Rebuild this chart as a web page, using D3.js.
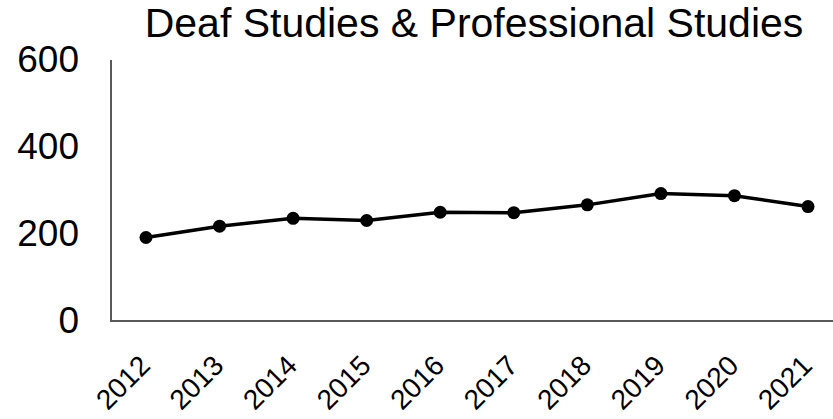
<!DOCTYPE html>
<html>
<head>
<meta charset="utf-8">
<script src="https://cdn.jsdelivr.net/npm/d3@7"></script>
<style>
  html, body { margin: 0; padding: 0; background: #fff; }
  svg { display: block; font-family: "Liberation Sans", Arial, sans-serif; }
</style>
</head>
<body>
<svg id="chart" width="833" height="419"></svg>
<script>
// Enrollment series
const years = ["2012", "2013", "2014", "2015", "2016", "2017", "2018", "2019", "2020", "2021"];
const enrollment = [192, 218, 236, 231, 250, 249, 267, 293, 288, 263];
const yTicks = [0, 200, 400, 600];
const title = "Deaf Studies & Professional Studies";

const svg = d3.select("#chart");
const axisLeft = 111, axisBottom = 321, axisTop = 60, axisRight = 833;

const x = d3.scalePoint().domain(years).range([146, 808]);
const y = d3.scaleLinear().domain([0, 600]).range([axisBottom, axisTop]);

// Title
svg.append("text")
  .attr("x", 474).attr("y", 37)
  .attr("text-anchor", "middle")
  .attr("font-size", 41)
  .attr("fill", "#000")
  .text(title);

// Y axis (labels only, no tick marks)
const yAxis = d3.axisLeft(y).tickValues(yTicks).tickSize(0).tickPadding(32);
const gy = svg.append("g").attr("transform", `translate(${axisLeft},0)`).call(yAxis);
gy.select(".domain").remove();
gy.selectAll("text").attr("font-size", 37).attr("fill", "#000").attr("font-family", "Liberation Sans, Arial, sans-serif");

svg.append("line")
  .attr("x1", axisLeft).attr("x2", axisLeft)
  .attr("y1", axisTop).attr("y2", axisBottom)
  .attr("stroke", "#595959").attr("stroke-width", 2);

// X axis baseline
svg.append("line")
  .attr("x1", axisLeft - 1).attr("x2", axisRight)
  .attr("y1", axisBottom).attr("y2", axisBottom)
  .attr("stroke", "#595959").attr("stroke-width", 2);

// X labels, rotated 45 degrees
const xAxis = d3.axisBottom(x).tickSize(0).tickPadding(0);
const gx = svg.append("g").attr("transform", `translate(0,${axisBottom})`).call(xAxis);
gx.select(".domain").remove();
gx.selectAll("text")
  .attr("font-size", 28)
  .attr("fill", "#000")
  .attr("font-family", "Liberation Sans, Arial, sans-serif")
  .attr("text-anchor", "end")
  .attr("y", 0)
  .attr("dy", "0.72em")
  .attr("transform", "translate(-9,32) rotate(-45)");

// Line and markers
const line = d3.line().x((d, i) => x(years[i])).y(d => y(d));
svg.append("path")
  .datum(enrollment)
  .attr("d", line)
  .attr("fill", "none")
  .attr("stroke", "#000")
  .attr("stroke-width", 3.5)
  .attr("stroke-linejoin", "round");

svg.selectAll("circle.pt")
  .data(enrollment)
  .join("circle")
  .attr("class", "pt")
  .attr("cx", (d, i) => x(years[i]))
  .attr("cy", d => y(d))
  .attr("r", 6.5)
  .attr("fill", "#000");
</script>
</body>
</html>
